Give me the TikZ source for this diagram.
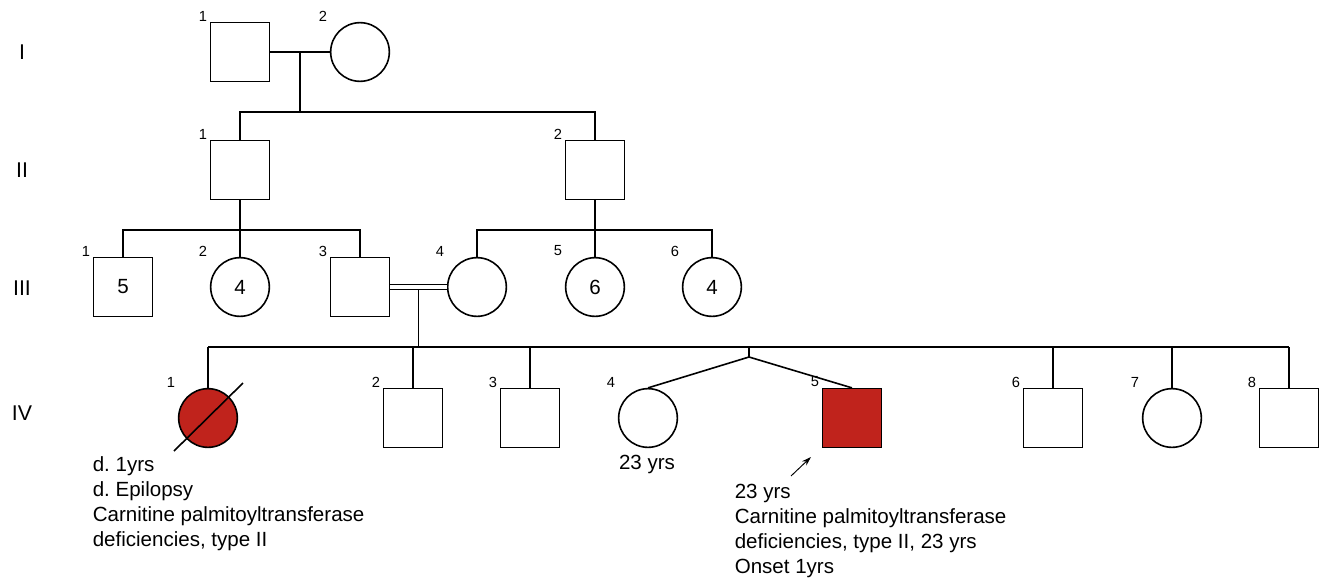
\documentclass[tikz,border=0pt]{standalone}
\usepackage{fontspec}
\setmainfont{Liberation Sans}
\frenchspacing
\usetikzlibrary{calc, arrows.meta}
\definecolor{rojoPed}{RGB}{192,35,28}

\begin{document}
\begin{tikzpicture}[
    x=0.75pt, y=-0.75pt,
    line width=1.2pt,
    every node/.style={font=\fontsize{15.4}{18.75}\selectfont},
    varon/.style={rectangle, draw, minimum size=44pt, inner sep=0pt},
    mujer/.style={circle, draw, minimum size=44pt, inner sep=0pt},
    afectado/.style={fill=rojoPed},
    numero/.style={font=\fontsize{11}{13}\selectfont, inner sep=0pt},
    generacion/.style={font=\fontsize{16}{19}\selectfont},
    nota/.style={align=left, anchor=base west, inner sep=0pt}
  ]
  \useasboundingbox (0,0) rectangle (1322,579);

  % ---------------- Generaciones ----------------
  \node (genI)   [generacion] at (22,52)  {I};
  \node (genII)  [generacion] at (22,170) {II};
  \node (genIII) [generacion] at (22,288) {III};
  \node (genIV)  [generacion] at (22,413) {IV};

  % ---------------- Generacion I ----------------
  \node (i1) [varon] at (240,52) {};
  \node (i2) [mujer] at (360,52) {};
  \node (nI1) [numero] at ($(i1)+(-37,-36)$) {1};
  \node (nI2) [numero] at ($(i2)+(-37,-36)$) {2};

  % ---------------- Generacion II ----------------
  \node (ii1) [varon] at (240,170) {};
  \node (ii2) [varon] at (595,170) {};
  \node (nII1) [numero] at ($(ii1)+(-37,-36)$) {1};
  \node (nII2) [numero] at ($(ii2)+(-37,-36)$) {2};

  % ---------------- Generacion III ----------------
  \node (iii1) [varon] at (123,287) {5};
  \node (iii2) [mujer] at (240,287) {4};
  \node (iii3) [varon] at (360,287) {};
  \node (iii4) [mujer] at (477,287) {};
  \node (iii5) [mujer] at (595,287) {6};
  \node (iii6) [mujer] at (712,287) {4};
  \node (nIII1) [numero] at ($(iii1)+(-37,-36)$) {1};
  \node (nIII2) [numero] at ($(iii2)+(-37,-36)$) {2};
  \node (nIII3) [numero] at ($(iii3)+(-37,-36)$) {3};
  \node (nIII4) [numero] at ($(iii4)+(-37,-36)$) {4};
  \node (nIII5) [numero] at ($(iii5)+(-37,-36)$) {5};
  \node (nIII6) [numero] at ($(iii6)+(-37,-36)$) {6};

  % ---------------- Generacion IV ----------------
  \node (iv1) [mujer, afectado] at (208,418) {};
  \node (iv2) [varon] at (413,418) {};
  \node (iv3) [varon] at (530,418) {};
  \node (iv4) [mujer] at (648,418) {};
  \node (iv5) [varon, afectado] at (852,418) {};
  \node (iv6) [varon] at (1053,418) {};
  \node (iv7) [mujer] at (1172,418) {};
  \node (iv8) [varon] at (1289,418) {};
  \node (nIV1) [numero] at ($(iv1)+(-37,-36)$) {1};
  \node (nIV2) [numero] at ($(iv2)+(-37,-36)$) {2};
  \node (nIV3) [numero] at ($(iv3)+(-37,-36)$) {3};
  \node (nIV4) [numero] at ($(iv4)+(-37,-36)$) {4};
  \node (nIV5) [numero] at ($(iv5)+(-37,-36)$) {5};
  \node (nIV6) [numero] at ($(iv6)+(-37,-36)$) {6};
  \node (nIV7) [numero] at ($(iv7)+(-37,-36)$) {7};
  \node (nIV8) [numero] at ($(iv8)+(-37,-36)$) {8};

  % fallecida
  \draw ($(iv1)+(-34,33)$) -- ($(iv1)+(35,-35)$);

  % ---------------- Lineas ----------------
  \coordinate (parejaI) at ($(i1.east)!0.5!(i2.west)$);
  \coordinate (hermI) at ($(parejaI)+(0,60)$);
  \draw (i1) -- (i2);
  \draw (parejaI) -- (hermI);
  \draw (ii1.north) -- (ii1.north |- hermI) -- (ii2.north |- hermI) -- (ii2.north);

  \coordinate (hermII1) at ($(ii1.south)+(0,30)$);
  \draw (ii1.south) -- (hermII1);
  \draw (iii1.north) -- (iii1.north |- hermII1) -- (iii3.north |- hermII1) -- (iii3.north);
  \draw (iii2.north) -- (iii2.north |- hermII1);

  \coordinate (hermII2) at ($(ii2.south)+(0,30)$);
  \draw (ii2.south) -- (hermII2);
  \draw (iii4.north) -- (iii4.north |- hermII2) -- (iii6.north |- hermII2) -- (iii6.north);
  \draw (iii5.north) -- (iii5.north |- hermII2);

  % consanguinidad
  \coordinate (parejaIII) at ($(iii3.east)!0.5!(iii4.west)$);
  \coordinate (hermIII) at ($(parejaIII)+(0,60)$);
  \draw (parejaIII) -- (hermIII);
  \draw[line width=1pt, double, double distance=2.5pt] (iii3) -- (iii4);

  \draw (iv1.north |- hermIII) -- (iv8.north |- hermIII);
  \foreach \n in {iv1,iv2,iv3,iv6,iv7,iv8}
    \draw (\n.north) -- (\n.north |- hermIII);

  % gemelos
  \coordinate (gemelos) at (749,357);
  \draw (gemelos |- hermIII) -- (gemelos);
  \draw (iv4.north) -- (gemelos) -- (iv5.north);

  % probando
  \draw[line width=0.7pt, -{Stealth[length=7pt, width=4.5pt]}] ($(iv5)+(-61,58)$) -- ($(iv5)+(-41,39)$);

  % ---------------- Notas ----------------
  \node (notaIV1) [nota] at (92,546) {d. 1yrs\\d. Epilopsy\\Carnitine palmitoyltransferase\\deficiencies, type II};
  \node (edadIV4) [anchor=base, inner sep=0pt] at (647,469) {23 yrs};
  \node (notaIV5) [nota] at (734,573) {23 yrs\\Carnitine palmitoyltransferase\\deficiencies, type II, 23 yrs\\Onset 1yrs};

\end{tikzpicture}
\end{document}
